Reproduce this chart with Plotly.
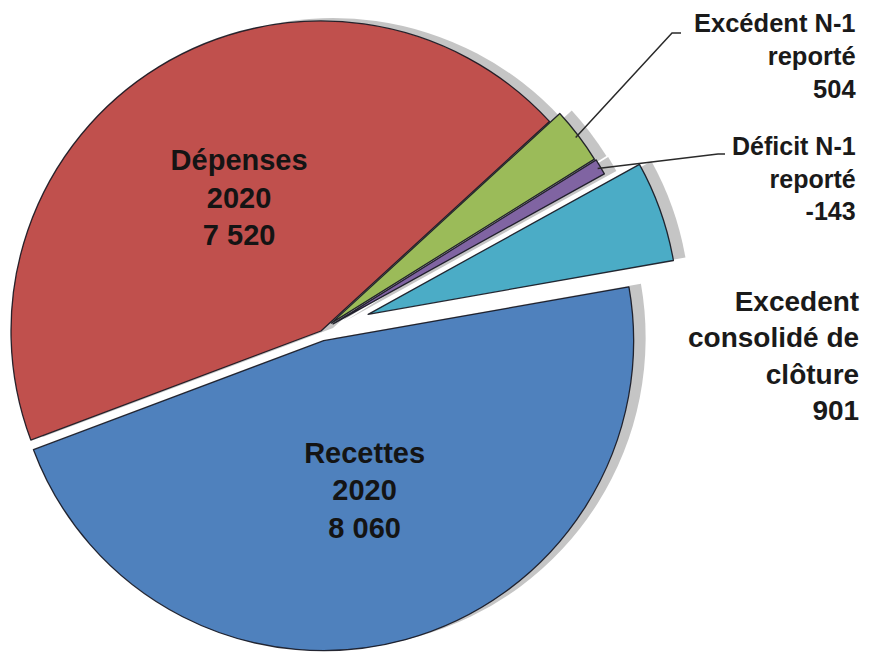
import math
import plotly.graph_objects as go

W, H = 873, 655

# ---------------- data ----------------
labels = ["Recettes 2020", "Dépenses 2020", "Excédent N-1 reporté",
          "Déficit N-1 reporté", "Excedent consolidé de clôture"]
values = [8060, 7520, 504, -143, 901]
inside_text = ["<b>Recettes<br>2020<br>8 060</b>", "<b>Dépenses<br>2020<br>7 520</b>", "", "", ""]
outside_text = ["", "",
                "<b>Excédent N-1<br>reporté<br>504</b>",
                "<b>Déficit N-1<br>reporté<br>-143</b>",
                "<b>Excedent<br>consolidé de<br>clôture<br>901</b>"]

# ---------------- style ----------------
colors = ["#4F81BD", "#C0504D", "#9BBB59", "#8064A2", "#4BACC6"]
CX, CY, R = 321, 331, 310          # pie centre / radius in px
ROTATION = 80                      # clockwise from 12 o'clock
pull_px = [10, 0, 13, 14, 50]      # explode distance per slice
SHADOW_DX, SHADOW_DY = 12, -3
SHADOW_COLOR = "rgba(150,150,150,0.55)"
FONT = "Liberation Sans, Arial, sans-serif"

sizes = [abs(v) for v in values]
total = sum(sizes)

# slice mid angles (clockwise from 12 o'clock) derived from the data
mids = []
acc = 0.0
for s in sizes:
    a0 = ROTATION + acc / total * 360
    acc += s
    a1 = ROTATION + acc / total * 360
    mids.append((a0 + a1) / 2)


def clamp(v):
    return min(1.0, max(0.0, v))


def domain(cx, cy, r):
    return dict(x=[clamp((cx - r) / W), clamp((cx + r) / W)],
                y=[clamp(1 - (cy + r) / H), clamp(1 - (cy - r) / H)])


centers = []
for i, m in enumerate(mids):
    rad = math.radians(m)
    centers.append((CX + pull_px[i] * math.sin(rad), CY - pull_px[i] * math.cos(rad)))

fig = go.Figure()
n = len(values)

# shadows
for i in range(n):
    cx, cy = centers[i]
    cols = ["rgba(0,0,0,0)"] * n
    cols[i] = SHADOW_COLOR
    fig.add_trace(go.Pie(
        labels=labels, values=sizes, sort=False, direction="clockwise",
        rotation=ROTATION, domain=domain(cx + SHADOW_DX, cy + SHADOW_DY, R),
        marker=dict(colors=cols, line=dict(width=0)),
        textinfo="none", hoverinfo="skip", showlegend=False))

# slices
for i in range(n):
    cx, cy = centers[i]
    cols = ["rgba(0,0,0,0)"] * n
    cols[i] = colors[i]
    lcols = ["rgba(0,0,0,0)"] * n
    lcols[i] = "rgba(20,20,30,0.9)"
    lw = [0] * n
    lw[i] = 1.3
    txt = [inside_text[j] if j == i else "" for j in range(n)]
    fig.add_trace(go.Pie(
        labels=labels, values=sizes, sort=False, direction="clockwise",
        rotation=ROTATION, domain=domain(cx, cy, R),
        marker=dict(colors=cols, line=dict(color=lcols, width=lw)),
        text=txt, textinfo="text", textposition="inside",
        insidetextorientation="horizontal",
        textfont=dict(family=FONT, size=29, color="#141414"),
        hoverinfo="label+value", showlegend=False))

# outside labels
label_pos = {2: (858, 7, 25.5), 3: (858, 130, 25), 4: (861, 284, 28)}
for i, (px, py, fs) in label_pos.items():
    fig.add_annotation(
        x=px / W, y=1 - py / H, xref="paper", yref="paper",
        xanchor="right", yanchor="top", align="right",
        text=outside_text[i], showarrow=False,
        font=dict(family=FONT, size=fs, color="#1a1a1a"))

# leader lines: tip on slice computed from data, elbow near the label
leader_ends = {2: [(672, 33), (681, 33)], 3: [(718, 154), (725, 154)]}
for i, pts in leader_ends.items():
    cx, cy = centers[i]
    rad = math.radians(mids[i])
    tx, ty = cx + R * 0.99 * math.sin(rad), cy - R * 0.99 * math.cos(rad)
    allp = [(tx, ty)] + pts
    path = "M " + " L ".join(f"{x / W:.5f},{1 - y / H:.5f}" for x, y in allp)
    fig.add_shape(type="path", path=path, xref="paper", yref="paper",
                  line=dict(color="#2a2a2a", width=1.5))

fig.update_layout(
    width=W, height=H, margin=dict(l=0, r=0, t=0, b=0),
    paper_bgcolor="white", plot_bgcolor="white", showlegend=False)

fig.write_html("out.html")
